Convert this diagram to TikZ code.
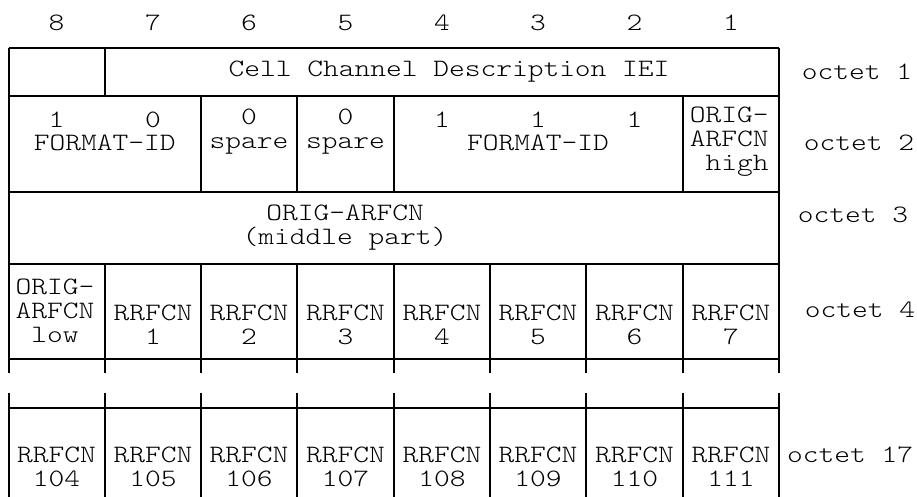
\documentclass[tikz,border=0pt]{standalone}
\usepackage{fontspec}
\newfontfamily\octfont[Extension=.otf,FakeStretch=1.2]{lmmonolt10-regular}
\usetikzlibrary{positioning}

\begin{document}
\begin{tikzpicture}[x=0.5pt,y=-0.5pt,
  octtxt/.style={inner sep=0pt,align=center,font=\octfont\fontsize{12.5}{12}\selectfont},
  octgrid/.style={line width=1pt,black}
]
  \useasboundingbox (0,0) rectangle (917,497);
  % Bit numbers
  \node[octtxt] (bit8) at (56.6,23) {8};
  \node[octtxt] (bit7) at (153,23) {7};
  \node[octtxt] (bit6) at (249,23) {6};
  \node[octtxt] (bit5) at (345.5,23) {5};
  \node[octtxt] (bit4) at (442,23) {4};
  \node[octtxt] (bit3) at (538,23) {3};
  \node[octtxt] (bit2) at (634.5,23) {2};
  \node[octtxt] (bit1) at (731,23) {1};
  % Grid: horizontal rules
  \draw[octgrid] (8.5,48) -- (779,48) (8.5,96) -- (779,96) (8.5,192) -- (779,192)
    (8.5,264) -- (779,264) (8.5,359) -- (779,359) (8.5,408) -- (779,408);
  % Grid: outer edges and row 1 split
  \draw[octgrid] (8.5,48) -- (8.5,373) (8.5,393) -- (8.5,497)
    (779,48) -- (779,373) (779,393) -- (779,497)
    (104.8,48) -- (104.8,96);
  % Grid: octet 2 fields
  \draw[octgrid] (201.1,96) -- (201.1,192) (297.4,96) -- (297.4,192)
    (393.7,96) -- (393.7,192) (682.6,96) -- (682.6,192);
  % Grid: octets 4 and 17, all bits
  \draw[octgrid] (104.8,264) -- (104.8,373) (104.8,393) -- (104.8,497)
    (201.1,264) -- (201.1,373) (201.1,393) -- (201.1,497)
    (297.4,264) -- (297.4,373) (297.4,393) -- (297.4,497)
    (393.7,264) -- (393.7,373) (393.7,393) -- (393.7,497)
    (490,264) -- (490,373) (490,393) -- (490,497)
    (586.3,264) -- (586.3,373) (586.3,393) -- (586.3,497)
    (682.6,264) -- (682.6,373) (682.6,393) -- (682.6,497);
  % Octet 1
  \node[octtxt] (iei) at (449,72) {Cell Channel Description IEI};
  % Octet 2
  \node[octtxt] (fmt8) at (56.6,120) {1};
  \node[octtxt] (fmt7) at (153,120) {0};
  \node[octtxt] (fmthi) at (104.8,143) {FORMAT-ID};
  \node[octtxt] (spare6) at (249,131.5) {0\\spare};
  \node[octtxt] (spare5) at (345.5,131.5) {0\\spare};
  \node[octtxt] (fmt4) at (442,120) {1};
  \node[octtxt] (fmt3) at (538,120) {1};
  \node[octtxt] (fmt2) at (634.5,120) {1};
  \node[octtxt] (fmtlo) at (538,143) {FORMAT-ID};
  \node[octtxt,align=right,anchor=east] (orighigh) at (769,142) {ORIG-\\ARFCN\\high};
  % Octet 3
  \node[octtxt] (origmid) at (345,228) {ORIG-ARFCN\\(middle part)};
  % Octet 4
  \node[octtxt] (origlow) at (55,311) {ORIG-\\ARFCN\\low};
  \node[octtxt] (rr1) at (153,324.5) {RRFCN\\1};
  \node[octtxt] (rr2) at (249,324.5) {RRFCN\\2};
  \node[octtxt] (rr3) at (345.5,324.5) {RRFCN\\3};
  \node[octtxt] (rr4) at (442,324.5) {RRFCN\\4};
  \node[octtxt] (rr5) at (538,324.5) {RRFCN\\5};
  \node[octtxt] (rr6) at (634.5,324.5) {RRFCN\\6};
  \node[octtxt] (rr7) at (731,324.5) {RRFCN\\7};
  % Octet 17
  \node[octtxt] (rr104) at (56.6,466.5) {RRFCN\\104};
  \node[octtxt] (rr105) at (153,466.5) {RRFCN\\105};
  \node[octtxt] (rr106) at (249,466.5) {RRFCN\\106};
  \node[octtxt] (rr107) at (345.5,466.5) {RRFCN\\107};
  \node[octtxt] (rr108) at (442,466.5) {RRFCN\\108};
  \node[octtxt] (rr109) at (538,466.5) {RRFCN\\109};
  \node[octtxt] (rr110) at (634.5,466.5) {RRFCN\\110};
  \node[octtxt] (rr111) at (731,466.5) {RRFCN\\111};
  % Octet labels
  \node[octtxt] (oct1) at (857,72) {octet 1};
  \node[octtxt] (oct2) at (859,143) {octet 2};
  \node[octtxt] (oct3) at (853,215) {octet 3};
  \node[octtxt] (oct4) at (860,310) {octet 4};
  \node[octtxt] (oct17) at (850,455) {octet 17};
\end{tikzpicture}
\end{document}
